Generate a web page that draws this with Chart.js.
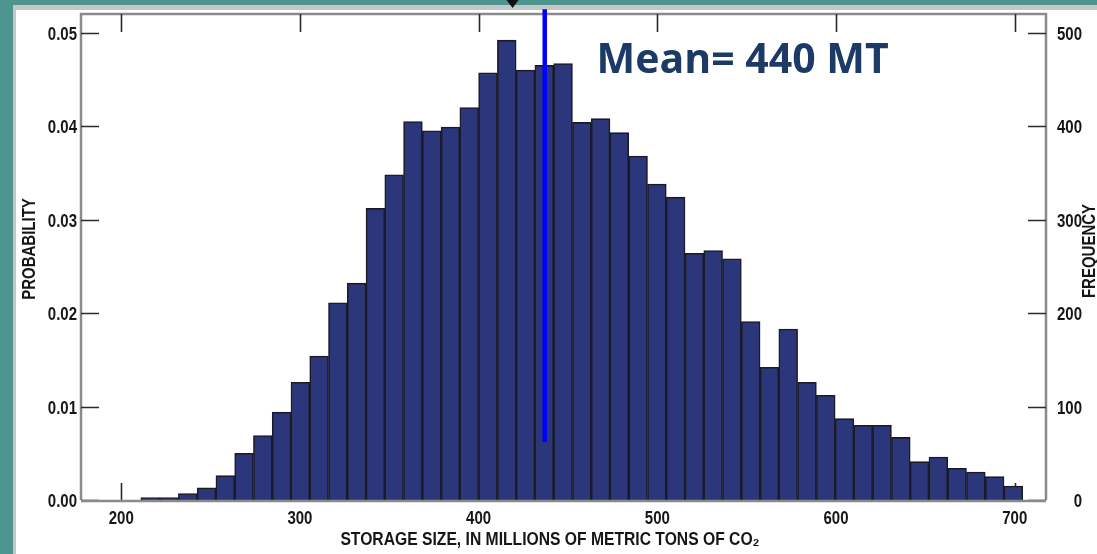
<!DOCTYPE html>
<html>
<head>
<meta charset="utf-8">
<script src="https://cdn.jsdelivr.net/npm/chart.js@4.4.1/dist/chart.umd.min.js"></script>
<style>
  html, body { margin: 0; padding: 0; background: #4e948f; overflow: hidden; }
  #wrap { width: 1097px; height: 554px; }
</style>
</head>
<body>
<div id="wrap"><canvas id="chartHist" width="1097" height="554"></canvas></div>
<script>
/* Histogram: storage size (millions of metric tons of CO2) */

// lower edge of each bin, width 10.5
const binStarts = [
  211, 221.5, 232, 242.5, 253, 263.5, 274, 284.5, 295, 305.5,
  316, 326.5, 337, 347.5, 358, 368.5, 379, 389.5, 400, 410.5,
  421, 431.5, 442, 452.5, 463, 473.5, 484, 494.5, 505, 515.5,
  526, 536.5, 547, 557.5, 568, 578.5, 589, 599.5, 610, 620.5,
  631, 641.5, 652, 662.5, 673, 683.5, 694
];
const binWidth = 10.5;

const probability = [
  0.00025, 0.00025, 0.0007, 0.0013, 0.0026, 0.0050, 0.0069, 0.0094, 0.0126, 0.0154,
  0.0211, 0.0232, 0.0312, 0.0348, 0.0405, 0.0395, 0.0399, 0.0420, 0.0457, 0.0492,
  0.0460, 0.0465, 0.0467, 0.0404, 0.0408, 0.0393, 0.0368, 0.0338, 0.0324, 0.0264,
  0.0267, 0.0258, 0.0191, 0.0142, 0.0183, 0.0126, 0.0112, 0.0087, 0.0080, 0.0080,
  0.0067, 0.0041, 0.0046, 0.0034, 0.0030, 0.0025, 0.0015
];

const xTicks    = [200, 300, 400, 500, 600, 700];
const probTicks = [0, 0.01, 0.02, 0.03, 0.04, 0.05];
const freqTicks = [0, 100, 200, 300, 400, 500];

const meanValue    = 437;
const meanLineSpan = [0.0062, 0.0525];
const meanLabel    = 'Mean= 440 MT';

const xTitle     = 'STORAGE SIZE, IN MILLIONS OF METRIC TONS OF CO\u2082';
const yTitle     = 'PROBABILITY';
const yFreqTitle = 'FREQUENCY';

/* condensed bold look: Liberation Sans squeezed horizontally */
const LABEL_FONT = 'bold 19px "Liberation Sans", Arial, sans-serif';
const SQUEEZE = 0.79;

function narrowText(c, text, x, y, align, angle, sq) {
  c.save();
  c.translate(x, y);
  if (angle) c.rotate(angle);
  c.scale(sq || SQUEEZE, 1);
  c.textAlign = align;
  c.fillText(text, 0, 0);
  c.restore();
}

const fixTicks = list => scale => { scale.ticks = list.map(v => ({ value: v })); };

const decor = {
  id: 'decor',
  beforeDraw(chart) {
    const c = chart.ctx;
    c.save();
    c.fillStyle = '#4e948f';
    c.fillRect(0, 0, chart.width, chart.height);
    c.fillStyle = '#c5c8c7';
    c.fillRect(13, 5, chart.width, chart.height);
    c.fillStyle = '#ffffff';
    c.fillRect(16, 10, chart.width, chart.height);
    // little marker at top
    const mx = chart.scales.x.getPixelForValue(419);
    c.fillStyle = '#111';
    c.beginPath();
    c.moveTo(mx - 6, 0); c.lineTo(mx + 6, 0); c.lineTo(mx, 8); c.closePath();
    c.fill();
    c.restore();
  },
  beforeDatasetsDraw(chart) {
    const { ctx: c, chartArea: a, scales } = chart;
    c.save();
    c.strokeStyle = '#8a8a8a';
    c.lineWidth = 2.5;
    c.beginPath();
    c.moveTo(a.left, a.bottom); c.lineTo(a.left, a.top);
    c.lineTo(a.right, a.top); c.lineTo(a.right, a.bottom);
    c.stroke();

    c.strokeStyle = '#2a2a2a';
    c.lineWidth = 1.6;
    c.beginPath();
    xTicks.forEach(v => {
      const px = Math.round(scales.x.getPixelForValue(v)) + 0.5;
      c.moveTo(px, a.top); c.lineTo(px, a.top + 18);
      c.moveTo(px, a.bottom); c.lineTo(px, a.bottom - 17);
    });
    probTicks.forEach(v => {
      const py = Math.round(scales.y.getPixelForValue(v)) + 0.5;
      c.moveTo(a.left, py); c.lineTo(a.left + 18, py);
    });
    freqTicks.forEach(v => {
      const py = Math.round(scales.yFreq.getPixelForValue(v)) + 0.5;
      c.moveTo(a.right, py); c.lineTo(a.right - 18, py);
    });
    c.stroke();
    c.restore();
  },
  afterDatasetsDraw(chart) {
    const { ctx: c, chartArea: a, scales } = chart;
    c.save();
    c.strokeStyle = '#8a8a8a';
    c.lineWidth = 2.5;
    c.beginPath();
    c.moveTo(a.left, a.bottom + 1); c.lineTo(a.right, a.bottom + 1);
    c.stroke();

    // tick labels
    c.fillStyle = '#161616';
    c.font = LABEL_FONT;
    c.textBaseline = 'middle';
    xTicks.forEach(v => narrowText(c, String(v), scales.x.getPixelForValue(v), a.bottom + 19, 'center'));
    probTicks.forEach(v => narrowText(c, v.toFixed(2), a.left - 4, scales.y.getPixelForValue(v) + 2, 'right'));
    freqTicks.forEach(v => narrowText(c, String(v), a.right + 36, scales.yFreq.getPixelForValue(v) + 2, 'right'));

    // axis titles
    narrowText(c, xTitle, 550, 540, 'center', 0, 0.825);
    narrowText(c, yTitle, 30, 249, 'center', -Math.PI / 2);
    narrowText(c, yFreqTitle, 1090, 251, 'center', -Math.PI / 2);

    // mean annotation
    c.fillStyle = '#1b3a65';
    c.font = 'bold 41px "Open Sans", Lato, sans-serif';
    c.textAlign = 'left';
    c.textBaseline = 'alphabetic';
    c.fillText(meanLabel, scales.x.getPixelForValue(466), scales.y.getPixelForValue(0.0457));
    c.restore();
  }
};

const noPad = s => { s.paddingTop = 0; s.paddingBottom = 0; s.paddingLeft = 0; s.paddingRight = 0; };

new Chart(document.getElementById('chartHist'), {
  type: 'bar',
  data: {
    datasets: [
      {
        type: 'line',
        label: 'Mean',
        data: meanLineSpan.map(p => ({ x: meanValue, y: p })),
        borderColor: '#0000ff',
        borderWidth: 4.5,
        pointRadius: 0,
        clip: false,
        order: 0,
        xAxisID: 'x',
        yAxisID: 'y',
      },
      {
        label: 'Probability',
        data: binStarts.map((s, i) => ({ x: s + binWidth / 2, y: probability[i] })),
        backgroundColor: '#2c367a',
        borderColor: '#1b1b28',
        borderWidth: 1.6,
        barPercentage: 1,
        categoryPercentage: 1,
        grouped: false,
        order: 1,
        xAxisID: 'x',
        yAxisID: 'y',
      },
    ],
  },
  options: {
    responsive: false,
    animation: false,
    layout: { padding: { top: 14, left: 0, right: 0, bottom: 0 } },
    plugins: {
      legend: { display: false },
      tooltip: { enabled: false },
    },
    scales: {
      x: {
        type: 'linear',
        offset: false,
        min: 177.5,
        max: 717.5,
        afterBuildTicks: fixTicks(xTicks),
        afterFit: s => { s.height = 54; noPad(s); },
        grid: { display: false, drawTicks: false },
        border: { display: false },
        ticks: { display: false },
      },
      y: {
        position: 'left',
        min: 0,
        max: 0.052,
        afterBuildTicks: fixTicks(probTicks),
        afterFit: s => { s.width = 81; noPad(s); },
        grid: { display: false, drawTicks: false },
        border: { display: false },
        ticks: { display: false },
      },
      yFreq: {
        position: 'right',
        min: 0,
        max: 520,
        afterBuildTicks: fixTicks(freqTicks),
        afterFit: s => { s.width = 51; noPad(s); },
        grid: { display: false, drawTicks: false },
        border: { display: false },
        ticks: { display: false },
      },
    },
  },
  plugins: [decor],
});
</script>
</body>
</html>
